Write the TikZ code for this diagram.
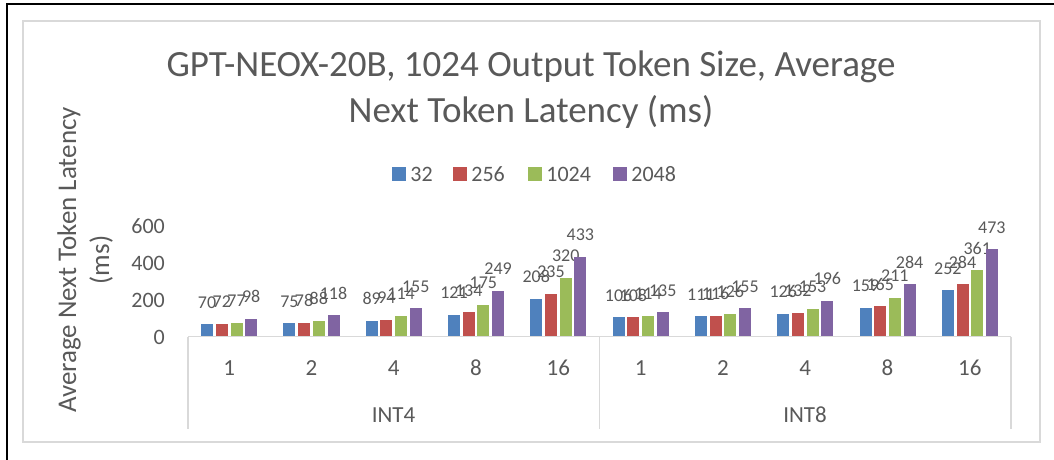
\documentclass[tikz,border=0pt]{standalone}
\usepackage{fontspec}
\setmainfont{Carlito}
\usetikzlibrary{positioning}
\definecolor{barbleu}{HTML}{4F81BD}
\definecolor{barrouge}{HTML}{C0504D}
\definecolor{barvert}{HTML}{9BBB59}
\definecolor{barviolet}{HTML}{8064A2}
\definecolor{txtgris}{HTML}{595959}
\definecolor{traitgris}{HTML}{D9D9D9}

\begin{document}
\begin{tikzpicture}[x=1pt,y=-1pt,
  lbl/.style={text=txtgris,inner sep=0pt},
  legsq/.style={minimum size=14pt,inner sep=0pt},
  axe/.style={traitgris,line width=1.5pt}]
\useasboundingbox (0,0) rectangle (1054,460);
% Cadre
\draw[line width=2.5pt] (7,460) -- (7,4) -- (1054,4);
\draw[axe] (23,21) rectangle (1040,442);
% Titre
\node[lbl,font=\fontsize{37}{40}\selectfont,anchor=base] (titre1) at (531,76) {GPT-NEOX-20B, 1024 Output Token Size, Average};
\node[lbl,font=\fontsize{37}{40}\selectfont,anchor=base] (titre2) at (531,122) {Next Token Latency (ms)};
% Légende
\foreach \x/\col/\t [count=\j] in {399/barbleu/32,460/barrouge/256,535/barvert/1024,620/barviolet/2048}{
  \node[legsq,fill=\col] (sq\j) at (\x,174) {};
  \node[lbl,font=\fontsize{22}{24}\selectfont,right=4pt of sq\j] (leg\j) {\t};
}
% Axe vertical
\node[lbl,font=\fontsize{27}{30}\selectfont,rotate=90] (ytitre1) at (69,260) {Average Next Token Latency};
\node[lbl,font=\fontsize{27}{30}\selectfont,rotate=90] (ytitre2) at (101,260) {(ms)};
\foreach \v [count=\j] in {0,200,400,600}
  \node[lbl,font=\fontsize{22}{24}\selectfont,anchor=east] (tick\j) at (165,337-0.185*\v) {\v};
% Barres et étiquettes
\foreach \cat/\va/\vb/\vc/\vd [count=\i] in {1/70/72/77/98,2/75/78/88/118,4/89/94/114/155,8/121/134/175/249,16/208/235/320/433,
    1/106/108/114/135,2/111/116/126/155,4/126/132/153/196,8/159/165/211/284,16/252/284/361/473}{
  \pgfmathsetmacro{\cx}{188+(\i-0.5)*82.3}
  \node[lbl,font=\fontsize{23}{24}\selectfont] (cat\i) at (\cx,368) {\cat};
  \foreach \v/\col [count=\k] in {\va/barbleu,\vb/barrouge,\vc/barvert,\vd/barviolet}{
    \pgfmathsetmacro{\bx}{\cx-28.05+(\k-1)*14.7}
    \pgfmathsetmacro{\by}{337-0.185*\v}
    \fill[\col] (\bx,337) rectangle (\bx+12,\by);
    \node[lbl,font=\fontsize{18}{20}\selectfont,anchor=base] (val\i-\k) at (\bx+6,\by-16) {\v};
  }
}
% Axe horizontal
\draw[axe] (188,336.5) -- (1011,336.5);
\foreach \x in {188,599.5,1011}
  \draw[axe] (\x,336.5) -- (\x,429);
\node[lbl,font=\fontsize{23}{24}\selectfont] (int4) at (393.5,415) {INT4};
\node[lbl,font=\fontsize{23}{24}\selectfont] (int8) at (805,415) {INT8};
\end{tikzpicture}
\end{document}
